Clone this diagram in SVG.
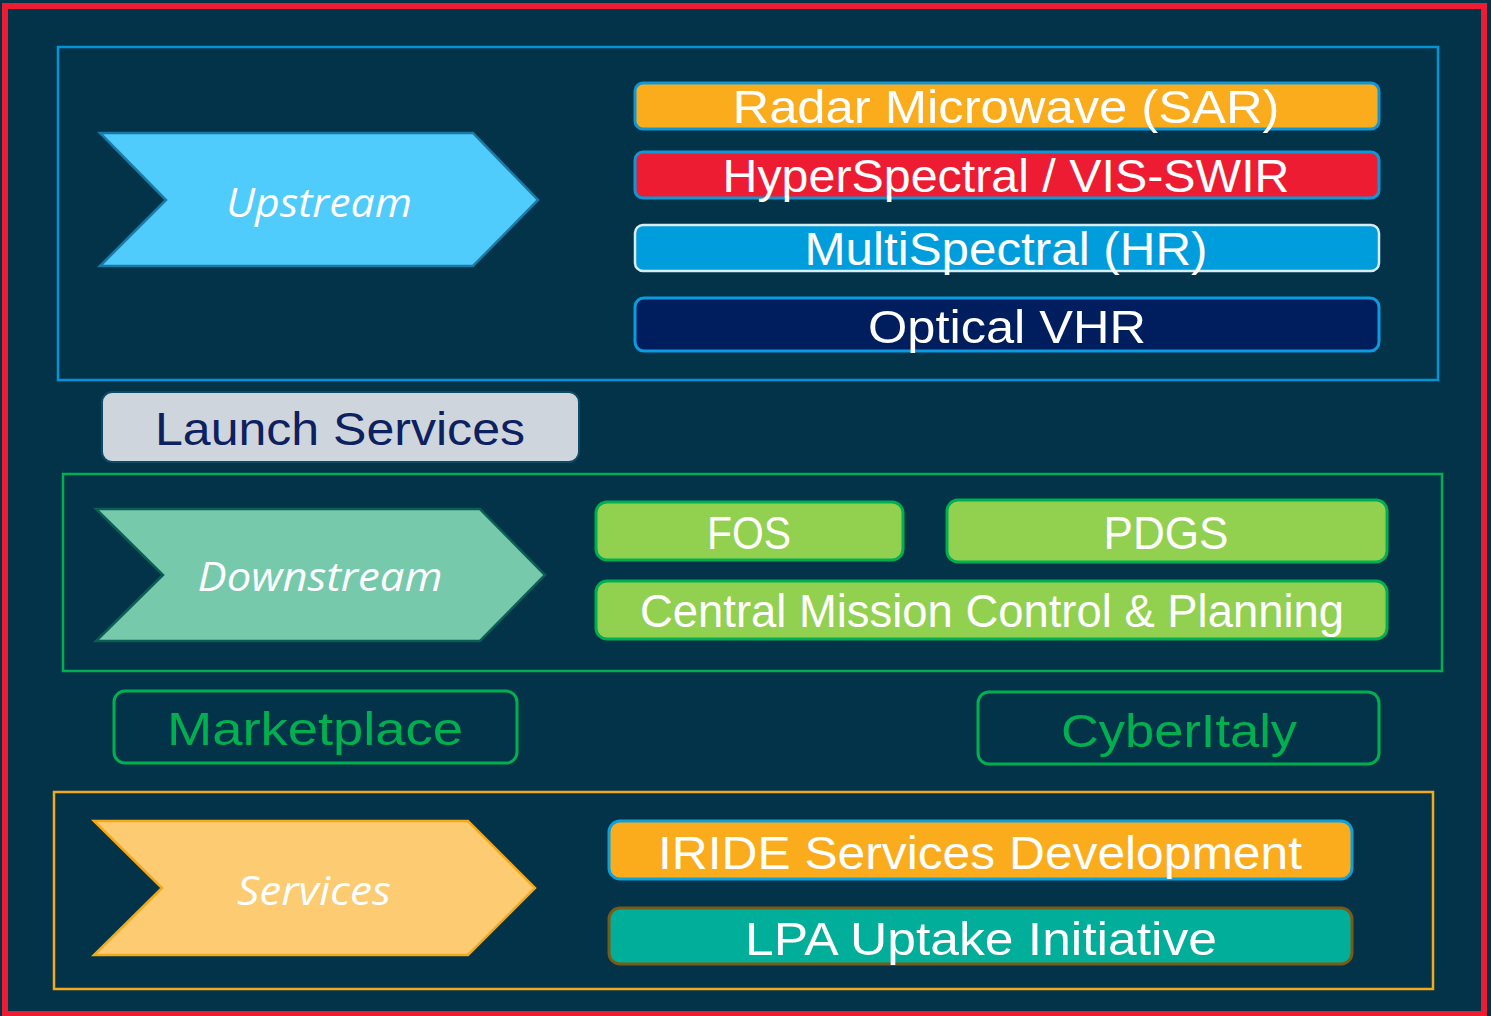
<svg xmlns="http://www.w3.org/2000/svg" width="1491" height="1016" viewBox="0 0 1491 1016">
<style>
.bar{font-family:"Liberation Sans","DejaVu Sans",sans-serif;font-size:46px;fill:#ffffff;text-anchor:middle}
.chev{font-family:"Open Sans","Noto Sans",sans-serif;font-style:italic;font-size:40px;fill:#ffffff;text-anchor:middle}
.frame{fill:none;stroke-width:2.5}
.green{fill:#92d050;stroke:#00b050;stroke-width:3}
</style>
<rect x="0" y="0" width="1491" height="1016" fill="#023349"/>
<rect x="5" y="6" width="1479" height="1008" fill="none" stroke="#ed1c33" stroke-width="6"/>

<g id="upstream-group">
<rect class="frame" x="58" y="47" width="1380" height="333" stroke="#0096d6"/>
<g id="upstream">
<polygon points="100,133 473,133 538,200 473,266 100,266 166,200" fill="#4fcbfc" stroke="#1a7aa6" stroke-width="2.5"/>
<text class="chev" x="319" y="217" textLength="186" lengthAdjust="spacingAndGlyphs">Upstream</text>
</g>
<g id="radar">
<rect x="635" y="83" width="744" height="46" rx="8" fill="#fbac1c" stroke="#1197d6" stroke-width="3"/>
<text class="bar" x="1006" y="123" textLength="547" lengthAdjust="spacingAndGlyphs">Radar Microwave (SAR)</text>
</g>
<g id="hyperspectral">
<rect x="635" y="152" width="744" height="46" rx="8" fill="#ed1c33" stroke="#1197d6" stroke-width="3"/>
<text class="bar" x="1006" y="192" textLength="567" lengthAdjust="spacingAndGlyphs">HyperSpectral / VIS-SWIR</text>
</g>
<g id="multispectral">
<rect x="635" y="225" width="744" height="46" rx="8" fill="#009ddc" stroke="#d7ecf5" stroke-width="2.5"/>
<text class="bar" x="1006" y="265" textLength="403" lengthAdjust="spacingAndGlyphs">MultiSpectral (HR)</text>
</g>
<g id="optical">
<rect x="635" y="298" width="744" height="53" rx="9" fill="#001e5e" stroke="#0a9be0" stroke-width="3"/>
<text class="bar" x="1007" y="343" textLength="278" lengthAdjust="spacingAndGlyphs">Optical VHR</text>
</g>
</g>

<g id="launch">
<rect x="102" y="392" width="477" height="70" rx="10" fill="#cfd5dc" stroke="#0d4a66" stroke-width="2"/>
<text class="bar" x="340" y="445" fill="#0d2060" style="fill:#0d2060" textLength="370" lengthAdjust="spacingAndGlyphs">Launch Services</text>
</g>

<g id="downstream-group">
<rect class="frame" x="63" y="474" width="1379" height="197" stroke="#00b050"/>
<g id="downstream">
<polygon points="96,509 480,509 545,575 480,641 96,641 163,575" fill="#77c9ac" stroke="#0b5e54" stroke-width="2.5"/>
<text class="chev" x="320" y="591" textLength="245" lengthAdjust="spacingAndGlyphs">Downstream</text>
</g>
<g id="fos">
<rect class="green" x="596" y="502" width="307" height="58" rx="11"/>
<text class="bar" x="749" y="549" textLength="84" lengthAdjust="spacingAndGlyphs">FOS</text>
</g>
<g id="pdgs">
<rect class="green" x="947" y="500" width="440" height="62" rx="11"/>
<text class="bar" x="1166" y="549" textLength="125" lengthAdjust="spacingAndGlyphs">PDGS</text>
</g>
<g id="cmcp">
<rect class="green" x="596" y="581" width="791" height="58" rx="11"/>
<text class="bar" x="992" y="627" textLength="704" lengthAdjust="spacingAndGlyphs">Central Mission Control &amp; Planning</text>
</g>
</g>

<g id="marketplace">
<rect x="114" y="691" width="403" height="72" rx="11" fill="none" stroke="#00b050" stroke-width="3"/>
<text class="bar" x="315" y="745" style="fill:#00b050" textLength="296" lengthAdjust="spacingAndGlyphs">Marketplace</text>
</g>
<g id="cyberitaly">
<rect x="978" y="692" width="401" height="72" rx="11" fill="none" stroke="#00b050" stroke-width="3"/>
<text class="bar" x="1179" y="747" style="fill:#00b050" textLength="236" lengthAdjust="spacingAndGlyphs">CyberItaly</text>
</g>

<g id="services-group">
<rect class="frame" x="54" y="792" width="1379" height="197" stroke="#f6a81c"/>
<g id="services">
<polygon points="94,821 468,821 535,888 468,955 94,955 162,888" fill="#fccb72" stroke="#f5a81b" stroke-width="2.5"/>
<text class="chev" x="314" y="905" textLength="154" lengthAdjust="spacingAndGlyphs">Services</text>
</g>
<g id="iride">
<rect x="609" y="821" width="743" height="58" rx="11" fill="#fbac1c" stroke="#0ea0da" stroke-width="3"/>
<text class="bar" x="980" y="869" textLength="644" lengthAdjust="spacingAndGlyphs">IRIDE Services Development</text>
</g>
<g id="lpa">
<rect x="609" y="908" width="743" height="56" rx="11" fill="#00ae9a" stroke="#7a5a14" stroke-width="3"/>
<text class="bar" x="981" y="955" textLength="472" lengthAdjust="spacingAndGlyphs">LPA Uptake Initiative</text>
</g>
</g>
<g id="connectors"></g>
</svg>
